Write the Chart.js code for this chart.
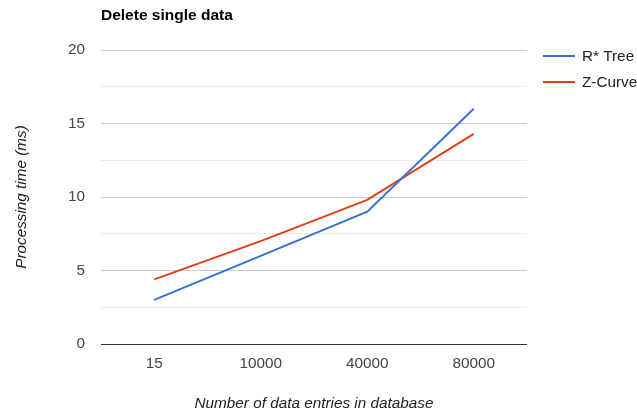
<!DOCTYPE html>
<html>
<head>
<meta charset="utf-8">
<script src="https://cdn.jsdelivr.net/npm/chart.js@4.4.1/dist/chart.umd.min.js"></script>
<style>
  html, body { margin: 0; padding: 0; background: #fff; }
  #wrap { width: 637px; height: 412px; }
</style>
</head>
<body>
<div id="wrap"><canvas id="mainChart" width="637" height="412"></canvas></div>
<script>
const entries = ['15', '10000', '40000', '80000'];
const rtree = [3, 6, 9, 16];
const zcurve = [4.4, 7, 9.8, 14.3];
const yLabels = [0, 5, 10, 15, 20];

const FONT = '"Liberation Sans", Arial, sans-serif';

// tytuł i legenda rysowane ręcznie (jak w Google Charts)
const extras = {
    id: 'extras',
    afterDraw(chart) {
        const ctx = chart.ctx;
        const area = chart.chartArea;
        ctx.save();
        ctx.fillStyle = '#000';
        ctx.font = 'bold 15.5px ' + FONT;
        ctx.textBaseline = 'middle';
        ctx.textAlign = 'left';
        ctx.fillText('Delete single data', area.left, 16);

        ctx.font = '15.3px ' + FONT;
        chart.data.datasets.forEach((ds, i) => {
            const y = 56 + i * 26;
            ctx.strokeStyle = ds.borderColor;
            ctx.lineWidth = 2;
            ctx.beginPath();
            ctx.moveTo(543, y);
            ctx.lineTo(575, y);
            ctx.stroke();
            ctx.fillStyle = '#222';
            ctx.fillText(ds.label, 582, y + 1);
        });
        ctx.restore();
    }
};

const ctx = document.getElementById('mainChart').getContext('2d');
new Chart(ctx, {
    type: 'line',
    data: {
        labels: entries,
        datasets: [
            {
                label: 'R* Tree',
                data: rtree,
                borderColor: '#3a6fd8',
                borderWidth: 2,
                pointRadius: 0,
                tension: 0
            },
            {
                label: 'Z-Curve',
                data: zcurve,
                borderColor: '#de4116',
                borderWidth: 2,
                pointRadius: 0,
                tension: 0
            }
        ]
    },
    options: {
        responsive: false,
        animation: false,
        layout: { padding: { top: 50, right: 110, bottom: 0, left: 0 } },
        plugins: {
            legend: { display: false },
            tooltip: { enabled: false }
        },
        scales: {
            x: {
                offset: true,
                grid: { display: false, drawTicks: false },
                border: { display: false },
                ticks: {
                    color: '#444',
                    font: { family: FONT, size: 15.3 },
                    padding: 11,
                    maxRotation: 0
                },
                title: {
                    display: true,
                    text: 'Number of data entries in database',
                    color: '#222',
                    font: { family: FONT, size: 15.3, style: 'italic' },
                    padding: { top: 0, bottom: -1 }
                },
                afterFit: (s) => { s.height = 68; }
            },
            y: {
                min: 0,
                max: 20,
                border: { display: false },
                grid: {
                    drawTicks: false,
                    lineWidth: 1,
                    color: (c) => {
                        const v = c.tick.value;
                        if (v === 0) return '#333';
                        return yLabels.includes(v) ? '#cccccc' : '#ebebeb';
                    }
                },
                ticks: {
                    stepSize: 2.5,
                    color: '#444',
                    font: { family: FONT, size: 15.3 },
                    padding: 16,
                    callback: (v) => yLabels.includes(v) ? String(v) : ''
                },
                title: {
                    display: true,
                    text: 'Processing time (ms)',
                    color: '#222',
                    font: { family: FONT, size: 15.3, style: 'italic' },
                    padding: { top: 13, bottom: 0 }
                },
                afterFit: (s) => { s.width = 101; }
            }
        }
    },
    plugins: [extras]
});
</script>
</body>
</html>
